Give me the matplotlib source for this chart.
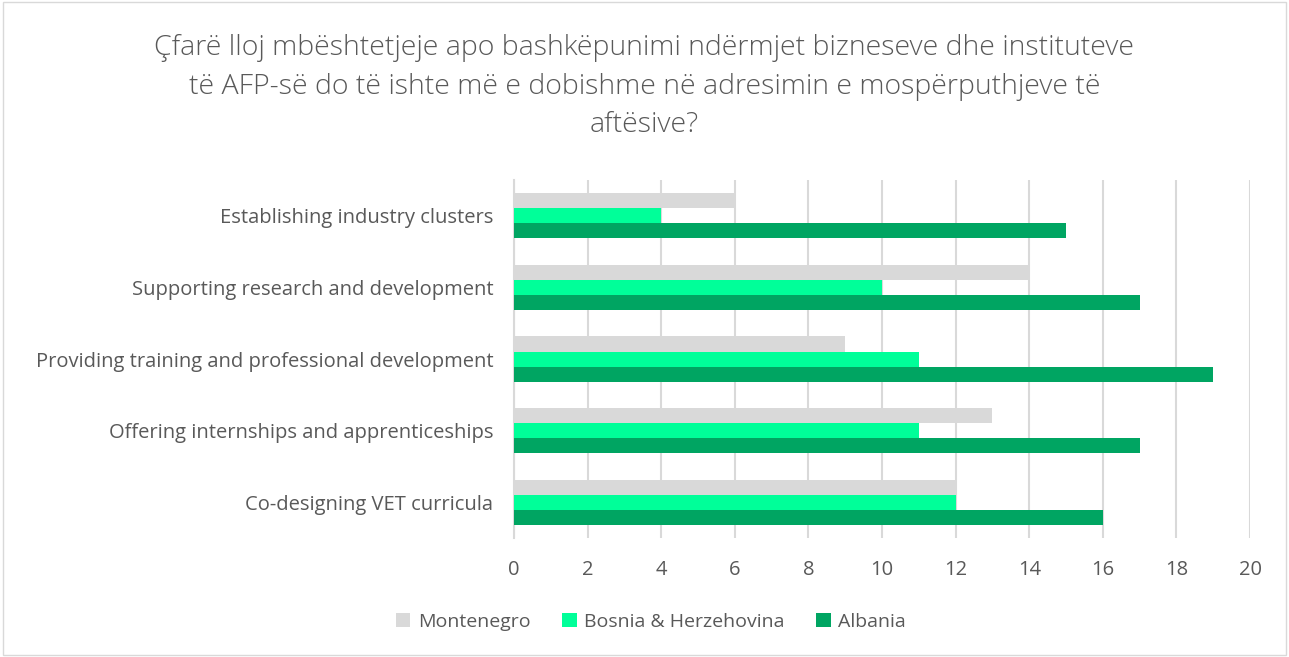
import numpy as np
import matplotlib.pyplot as plt
from matplotlib.patches import Rectangle

categories = ["Co-designing VET curricula",
              "Offering internships and apprenticeships",
              "Providing training and professional development",
              "Supporting research and development",
              "Establishing industry clusters"]
montenegro = [12, 13, 9, 14, 6]
bosnia = [12, 11, 11, 10, 4]
albania = [16, 17, 19, 17, 15]
series_names = ["Montenegro", "Bosnia & Herzehovina", "Albania"]
colors = ["#D9D9D9", "#00FF99", "#00A562"]

title = ("Çfarë lloj mbështetjeje apo bashkëpunimi ndërmjet bizneseve dhe instituteve\n"
         "të AFP-së do të ishte më e dobishme në adresimin e mospërputhjeve të\n"
         "aftësive?")

plt.rcParams['font.family'] = ['Open Sans', 'DejaVu Sans']
text_col = "#595959"

fig = plt.figure(figsize=(12.89, 6.57), dpi=100)
ax = fig.add_axes([0.3988, 0.181, 0.571, 0.545])

y = np.arange(len(categories))
h = 0.21
for i, (vals, name, c) in enumerate(zip([montenegro, bosnia, albania], series_names, colors)):
    ax.barh(y + (1 - i) * h, vals, height=h, color=c, label=name, zorder=3)

ax.set_xlim(0, 20)
ax.set_ylim(-0.5, len(categories) - 0.5)
ax.set_xticks(range(0, 21, 2))
ax.set_yticks(y)
ax.set_yticklabels(categories)
ax.tick_params(axis='both', length=0, labelsize=14.5, colors=text_col)
ax.tick_params(axis='y', pad=15)
ax.tick_params(axis='x', pad=16)
ax.grid(axis='x', color="#D9D9D9", linewidth=1.5, zorder=0)
for s in ["top", "right", "bottom"]:
    ax.spines[s].set_visible(False)
ax.spines["left"].set_color("#D9D9D9")
ax.spines["left"].set_linewidth(1.5)

fig.text(0.5, 0.948, title, ha='center', va='top', fontsize=20.5,
         color=text_col, linespacing=1.5, fontweight='light')

handles, labels = ax.get_legend_handles_labels()
fig.legend(handles, labels, loc='center', bbox_to_anchor=(0.505, 0.054), ncol=3,
           frameon=False, fontsize=14, labelcolor=text_col, handlelength=0.75,
           handleheight=0.75, handletextpad=0.4, columnspacing=1.6)

fig.patches.append(Rectangle((0.002, 0.003), 0.996, 0.994, transform=fig.transFigure,
                             fill=False, edgecolor="#D9D9D9", linewidth=1))

fig.savefig("out.png", dpi=100)
